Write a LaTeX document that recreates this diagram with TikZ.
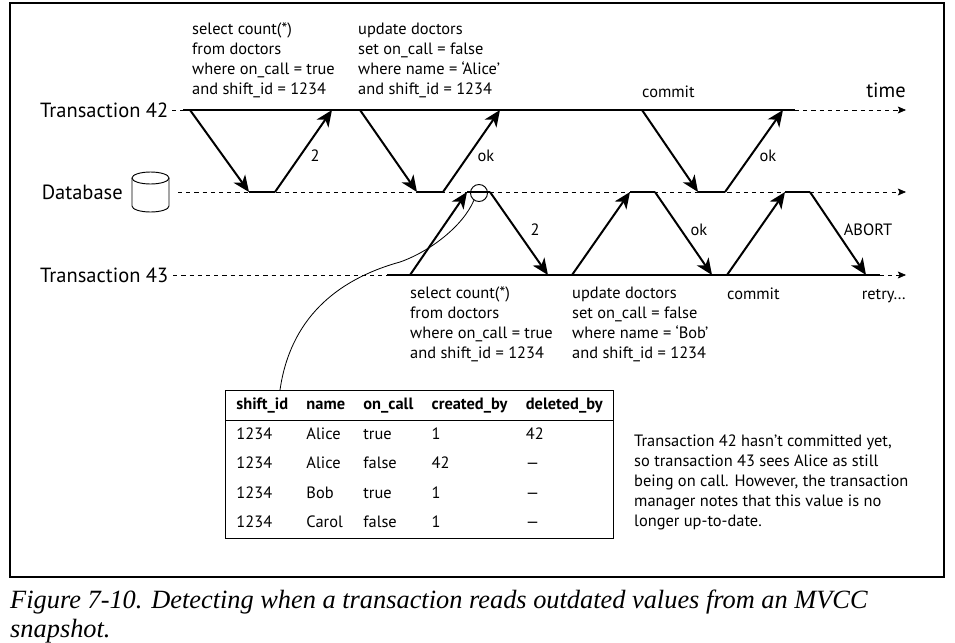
\documentclass[tikz,border=0pt]{standalone}
\usepackage{fontspec}
\setmainfont{PT Sans}
\newfontfamily\capfont{Liberation Serif}
\usetikzlibrary{arrows.meta,matrix}

\newcommand\stmtfont{\fontsize{14}{17}\selectfont}
\newcommand\lanefont{\fontsize{17.5}{20}\selectfont}
\newcommand\headfont{\fontsize{14}{17}\selectfont\bfseries}

\begin{document}
\begin{tikzpicture}[x=0.03cm, y=-0.03cm,
    lanelabel/.style={font=\lanefont, anchor=west, inner sep=0pt},
    stmt/.style={font=\stmtfont, align=left, anchor=north west, inner sep=0pt},
    reply/.style={font=\stmtfont, inner sep=0pt},
    live/.style={line width=1.7pt},
    idle/.style={line width=0.6pt, dash pattern=on 3.5pt off 3.5pt},
    ahead/.style={idle, -{Stealth[length=7pt, width=6pt, inset=1.5pt]}},
    msg/.style={line width=1.7pt, -{Stealth[length=14pt, width=12pt, inset=4pt]}}
]
    \useasboundingbox (0,0) rectangle (955,642);
    \draw[line width=1.1pt] (10,3) rectangle (944,577);

    % lanes
    \node[lanelabel] (t42) at (40,110) {Transaction 42};
    \node[lanelabel] (t43) at (40,275) {Transaction 43};
    \node[minimum width=1.11cm, minimum height=1.2cm, inner sep=0pt] (dbicon) at (150.5,192) {};
    \node[lanelabel, anchor=east] (db) at (123,192) {Database};
    \draw[line width=0.8pt] (150.5,178) ellipse [x radius=18.5, y radius=6];
    \draw[line width=0.8pt] (132,178) -- (132,206) arc [start angle=180, end angle=0,
        x radius=18.5, y radius=6] -- (169,178);

    \coordinate (t42s) at (183,110);
    \coordinate (t42e) at (795,110);
    \coordinate (t42f) at (906,110);
    \coordinate (dbs) at (178,192);
    \coordinate (dbf) at (906,192);
    \coordinate (t43s) at (387,275);
    \coordinate (t43e) at (880,275);
    \coordinate (t43f) at (906,275);

    \draw[idle] (t42.east) ++(3pt,0) -- (t42s);
    \draw[live] (t42s) -- (t42e);
    \draw[ahead] (t42e) -- (t42f);
    \draw[ahead] (dbs) -- (dbf);
    \draw[idle] (t43.east) ++(4pt,0) -- (t43s);
    \draw[live] (t43s) -- (t43e);
    \draw[ahead] (t43e) -- (t43f);

    \node[font=\lanefont, anchor=base east, inner sep=0pt] (time) at (906,97) {time};

    % transaction 42
    \coordinate (a1) at (190,110); \coordinate (a2) at (249,192);
    \coordinate (a3) at (275,192); \coordinate (a4) at (332,110);
    \coordinate (b1) at (360,110); \coordinate (b2) at (417,192);
    \coordinate (b3) at (443,192); \coordinate (b4) at (500,110);
    \coordinate (c1) at (642,110); \coordinate (c2) at (698,192);
    \coordinate (c3) at (725,192); \coordinate (c4) at (783,110);

    \draw[msg] (a1) -- (a2);
    \draw[live] (a2) -- (a3);
    \draw[msg] (a3) -- (a4);
    \draw[msg] (b1) -- (b2);
    \draw[live] (b2) -- (b3);
    \draw[msg] (b3) -- (b4);
    \draw[msg] (c1) -- (c2);
    \draw[live] (c2) -- (c3);
    \draw[msg] (c3) -- (c4);

    \node[stmt] (q42a) at (192,23)
        {select count(*)\\from doctors\\where on\_call = true\\and shift\_id = 1234};
    \node[stmt] (q42b) at (358,23)
        {update doctors\\set on\_call = false\\where name = `Alice'\\and shift\_id = 1234};
    \node[font=\stmtfont, anchor=base west, inner sep=0pt] (c42) at (642,97) {commit};
    \node[reply] (r42a) at (315,156) {2};
    \node[reply] (r42b) at (486,156) {ok};
    \node[reply] (r42c) at (768,156) {ok};

    % transaction 43
    \coordinate (d1) at (410,275); \coordinate (d2) at (467,192);
    \coordinate (d3) at (490,192); \coordinate (d4) at (548,275);
    \coordinate (e1) at (572,275); \coordinate (e2) at (630,192);
    \coordinate (e3) at (655,192); \coordinate (e4) at (712,275);
    \coordinate (f1) at (727,275); \coordinate (f2) at (785,192);
    \coordinate (f3) at (810,192); \coordinate (f4) at (866,275);

    \draw[msg] (d1) -- (d2);
    \draw[live] (d2) -- (d3);
    \draw[msg] (d3) -- (d4);
    \draw[msg] (e1) -- (e2);
    \draw[live] (e2) -- (e3);
    \draw[msg] (e3) -- (e4);
    \draw[msg] (f1) -- (f2);
    \draw[live] (f2) -- (f3);
    \draw[msg] (f3) -- (f4);

    \node[stmt] (q43a) at (410,287)
        {select count(*)\\from doctors\\where on\_call = true\\and shift\_id = 1234};
    \node[stmt] (q43b) at (572,287)
        {update doctors\\set on\_call = false\\where name = `Bob'\\and shift\_id = 1234};
    \node[font=\stmtfont, anchor=base west, inner sep=0pt] (c43) at (727,299) {commit};
    \node[font=\stmtfont, anchor=base east, inner sep=0pt] (retry) at (906,299) {retry…};
    \node[reply] (r43a) at (535,230) {2};
    \node[reply] (r43b) at (699,230) {ok};
    \node[reply] (r43c) at (868,230) {ABORT};

    % stale read and the versions table
    \node[circle, draw, line width=0.8pt, inner sep=0pt, minimum size=0.51cm] (stale) at (479,193) {};

    \matrix (tbl) [matrix of nodes, draw, line width=0.8pt, anchor=north west,
                   inner xsep=0.33cm, inner ysep=0.22cm,
                   column sep=0.55cm, row sep=0.43cm,
                   nodes={font=\stmtfont, anchor=base west, inner sep=0pt,
                          text height=10pt, text depth=3pt},
                   row 1/.style={nodes={font=\headfont}}] at (225,390) {
        shift\_id & name & on\_call & created\_by & deleted\_by \\
        1234 & Alice & true & 1 & 42 \\
        1234 & Alice & false & 42 & --- \\
        1234 & Bob & true & 1 & --- \\
        1234 & Carol & false & 1 & --- \\
    };
    \draw[line width=0.8pt] (tbl.west |- 0,420) -- (tbl.east |- 0,420);

    \coordinate (bend) at (400,262);
    \coordinate (rowref) at (280,390);
    \draw[line width=0.7pt] (stale.235) .. controls (463,226) and (430,251.5) .. (bend)
        .. controls (335,280) and (290,320) .. (rowref);

    \node[stmt] (note) at (634,435)
        {Transaction 42 hasn't committed yet,\\so transaction 43 sees Alice as still\\being on call. However, the transaction\\manager notes that this value is no\\longer up-to-date.};

    % caption
    \node[font={\capfont\itshape\fontsize{22.5}{24.75}\selectfont}, align=left,
          anchor=base west, inner sep=0pt] (caption) at (10,637)
        {Figure 7-10. Detecting when a transaction reads outdated values from an MVCC\\snapshot.};
\end{tikzpicture}
\end{document}
